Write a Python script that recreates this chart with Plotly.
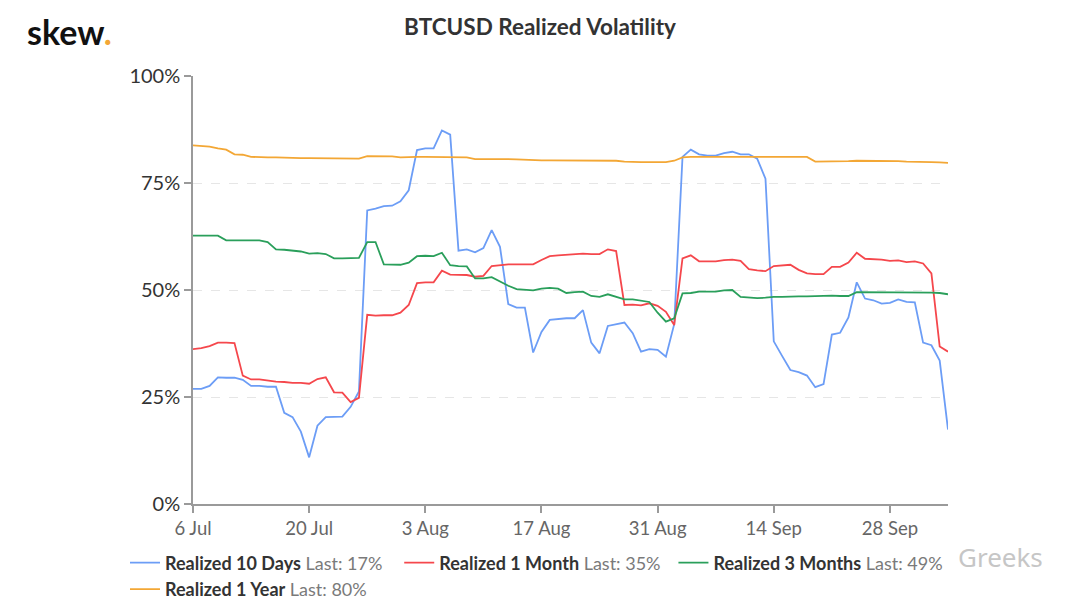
import plotly.graph_objects as go
import pandas as pd

# ---------------- data ----------------
START_DATE = "2020-07-06"
N_DAYS = 92
dates = pd.date_range(START_DATE, periods=N_DAYS, freq="D")

realized_10d = [
    26.9, 26.9, 27.6, 29.6, 29.5, 29.5, 29.0, 27.6, 27.6, 27.4,
    27.4, 21.3, 20.3, 16.9, 10.9, 18.3, 20.3, 20.4, 20.4, 22.7,
    26.3, 68.6, 69.0, 69.6, 69.7, 70.7, 73.3, 82.7, 83.1, 83.1,
    87.3, 86.3, 59.2, 59.5, 58.8, 59.8, 64.0, 60.1, 46.7, 45.9,
    45.9, 35.4, 40.2, 43.0, 43.2, 43.4, 43.4, 45.3, 37.7, 35.2,
    41.6, 42.0, 42.4, 39.9, 35.6, 36.2, 36.0, 34.4, 42.0, 81.1,
    82.8, 81.7, 81.4, 81.4, 82.0, 82.3, 81.7, 81.7, 80.7, 76.0,
    38.0, 34.6, 31.3, 30.8, 30.0, 27.3, 28.0, 39.6, 40.0, 43.6,
    51.8, 48.0, 47.6, 46.8, 47.0, 47.8, 47.2, 47.1, 37.7, 37.1,
    33.5, 17.4,
]

realized_1m = [
    36.2, 36.4, 36.9, 37.7, 37.7, 37.6, 30.0, 29.1, 29.1, 28.8,
    28.6, 28.5, 28.3, 28.3, 28.1, 29.2, 29.6, 26.1, 26.0, 23.8,
    24.8, 44.2, 44.0, 44.1, 44.1, 44.7, 46.5, 51.6, 51.8, 51.8,
    54.5, 53.6, 53.6, 53.5, 53.1, 53.3, 55.6, 55.8, 56.0, 56.0,
    56.0, 56.0, 57.0, 57.9, 58.1, 58.2, 58.4, 58.5, 58.4, 58.4,
    59.5, 59.1, 46.5, 46.6, 46.4, 46.9, 46.3, 44.9, 41.8, 57.4,
    58.1, 56.7, 56.7, 56.7, 57.0, 57.1, 56.8, 54.9, 54.6, 54.4,
    55.6, 55.7, 55.9, 54.7, 53.9, 53.7, 53.7, 55.4, 55.4, 56.4,
    58.7, 57.3, 57.2, 57.1, 56.8, 56.9, 56.5, 56.7, 56.2, 53.9,
    36.8, 35.6,
]

realized_3m = [
    62.7, 62.7, 62.6, 62.7, 61.6, 61.6, 61.6, 61.6, 61.6, 61.2,
    59.5, 59.4, 59.2, 59.0, 58.5, 58.6, 58.4, 57.4, 57.4, 57.5,
    57.5, 61.2, 61.2, 56.0, 55.9, 55.9, 56.4, 57.9, 58.0, 57.9,
    58.7, 55.8, 55.6, 55.5, 52.7, 52.7, 53.0, 51.9, 51.0, 50.2,
    50.1, 49.9, 50.3, 50.5, 50.3, 49.3, 49.5, 49.6, 48.6, 48.4,
    49.0, 48.4, 47.8, 47.8, 47.5, 47.2, 44.7, 42.6, 43.4, 49.2,
    49.3, 49.6, 49.6, 49.6, 49.9, 50.0, 48.4, 48.2, 48.1, 48.2,
    48.4, 48.4, 48.5, 48.5, 48.5, 48.6, 48.7, 48.7, 48.6, 48.6,
    49.5, 49.5, 49.4, 49.4, 49.4, 49.4, 49.4, 49.4, 49.4, 49.4,
    49.3, 49.0,
]

realized_1y = [
    83.8, 83.7, 83.5, 83.1, 82.8, 81.7, 81.6, 81.1, 81.0, 81.0,
    81.0, 80.9, 80.9, 80.8, 80.8, 80.8, 80.8, 80.8, 80.8, 80.7,
    80.7, 81.3, 81.3, 81.3, 81.2, 81.0, 81.1, 81.1, 81.1, 81.1,
    81.1, 81.1, 81.0, 81.0, 80.6, 80.6, 80.7, 80.7, 80.6, 80.5,
    80.4, 80.3, 80.3, 80.3, 80.3, 80.3, 80.3, 80.3, 80.2, 80.2,
    80.2, 80.2, 80.0, 79.9, 79.9, 79.9, 79.9, 79.9, 80.2, 81.0,
    81.1, 81.1, 81.1, 81.2, 81.2, 81.2, 81.2, 81.1, 81.1, 81.1,
    81.1, 81.1, 81.1, 81.1, 81.1, 80.0, 80.0, 80.0, 80.1, 80.1,
    80.2, 80.2, 80.1, 80.1, 80.1, 80.1, 80.0, 80.0, 79.9, 79.9,
    79.8, 79.7,
]

SERIES_NAMES = ["Realized 10 Days", "Realized 1 Month", "Realized 3 Months", "Realized 1 Year"]
LAST_LABELS = ["17%", "35%", "49%", "80%"]
SERIES_COLORS = ["#6c9df6", "#f5474c", "#2a9f5b", "#f3a735"]

TICK_DATES = ["2020-07-06", "2020-07-20", "2020-08-03", "2020-08-17",
              "2020-08-31", "2020-09-14", "2020-09-28"]
TICK_LABELS = ["6 Jul", "20 Jul", "3 Aug", "17 Aug", "31 Aug", "14 Sep", "28 Sep"]
Y_TICKS = [0, 25, 50, 75, 100]
Y_LABELS = ["0%", "25%", "50%", "75%", "100%"]

TITLE = "BTCUSD Realized Volatility"

# ---------------- figure ----------------
# the page body has an 8px margin, so the figure is laid out 8px up/left
FONT = "Lato"
W, H = 1080, 603
ML, MR, MT, MB = 185, 140, 68, 106.5
PW, PH = W - ML - MR, H - MT - MB

fig = go.Figure()
all_series = [realized_10d, realized_1m, realized_3m, realized_1y]
for name, last, color, vals in zip(SERIES_NAMES, LAST_LABELS, SERIES_COLORS, all_series):
    fig.add_trace(go.Scatter(
        x=dates, y=vals, mode="lines",
        name=f"<b>{name}</b> <span style='color:#7a7a7a'>Last: {last}</span>",
        line=dict(color=color, width=1.8),
    ))

fig.update_layout(
    width=W, height=H,
    margin=dict(l=ML, r=MR, t=MT, b=MB, autoexpand=False),
    paper_bgcolor="white", plot_bgcolor="white",
    font=dict(family=FONT, color="#333333", size=16),
    title=dict(text=f"<b>{TITLE}</b>", x=532 / W, xref="container", xanchor="center",
               y=1 - 19 / H, yref="container", yanchor="middle",
               font=dict(family=FONT, size=22.5, color="#333333")),
    showlegend=True,
    legend=dict(orientation="h", x=(117 - ML) / PW, xanchor="left",
                y=-(537 - (H - MB)) / PH, yanchor="top",
                font=dict(family=FONT, size=18, color="#333333"),
                itemwidth=30, tracegroupgap=0, bgcolor="rgba(0,0,0,0)"),
    xaxis=dict(range=[dates[0], dates[-1]], tickmode="array",
               tickvals=TICK_DATES, ticktext=TICK_LABELS,
               showgrid=False, showline=True, linecolor="#9a9a9a", linewidth=1.5,
               ticks="outside", ticklen=7, tickcolor="#9a9a9a", tickwidth=1.5,
               tickfont=dict(family=FONT, size=18.5, color="#666666"),
               zeroline=False),
    yaxis=dict(range=[0, 100], tickmode="array", tickvals=Y_TICKS, ticktext=Y_LABELS,
               showgrid=True, gridcolor="#e6e6e6", griddash="dash", gridwidth=1,
               showline=True, linecolor="#9a9a9a", linewidth=1.5,
               ticks="outside", ticklen=7, tickcolor="#9a9a9a", tickwidth=1.5,
               tickfont=dict(family=FONT, size=20, color="#333333"),
               zeroline=False),
    annotations=[
        dict(text="<b>skew</b><span style='color:#f3a735'><b>.</b></span>",
             xref="paper", yref="paper", x=(17 - ML) / PW, y=1 + (MT - 23) / PH,
             xanchor="left", yanchor="middle", showarrow=False,
             font=dict(family=FONT, size=34, color="#111111")),
        dict(text="Greeks", xref="paper", yref="paper",
             x=(1037 - ML) / PW, y=-(550 - (H - MB)) / PH,
             xanchor="right", yanchor="middle", showarrow=False,
             font=dict(family="Noto Sans", size=26, color="#c6c6c6")),
    ],
)

fig.write_html("out.html")
